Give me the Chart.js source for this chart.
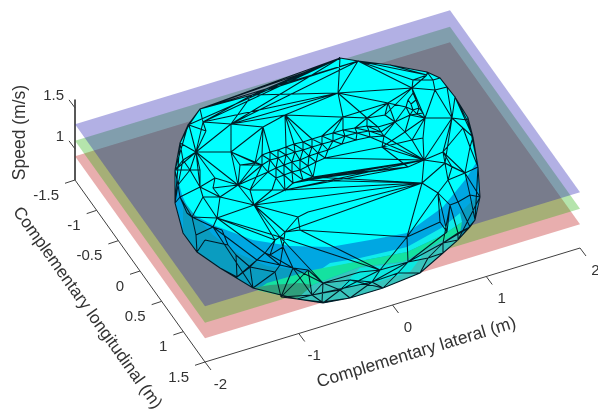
<!DOCTYPE html>
<html>
<head>
<meta charset="utf-8">
<script src="https://cdn.jsdelivr.net/npm/chart.js@4"></script>
<style>
  html, body { margin: 0; background: #fff; }
  canvas { display: block; filter: blur(0.4px); }
</style>
</head>
<body>
<canvas id="chart" width="598" height="410"></canvas>
<script>
// axis ticks, in data units
const lateralTicks = [-2, -1, 0, 1, 2];
const longitudinalTicks = [-1.5, -1, -0.5, 0, 0.5, 1, 1.5];
const speedTicks = [1, 1.5];

// the three speed planes, low to high
const planeSpeeds = [0.91, 1.10, 1.30];

// mesh vertices, in view units. 0-28 is the outline
const meshU = [
  340,358,390,427,440,455,468,473,478,480,475,458,443,420,383,350,323,297,253,220,197,183,175,175,180,188,200,252,303,
  255,262,270,278,286,294,303,312,322,333,343,355,367,378,
  262,270,278,286,295,303,312,322,333,345,357,369,381,
  268,276,284,292,300,309,318,328,342,356,370,384,
  276,284,292,300,308,316,325,
  285,293,303,313,
  412,413,408,406,411,416,413,419,417,423,410,425,
  338,388,367,343,385,427,413,433,435,447,452,467,463,424,412,443,445,423,395,408,470,465,382,405,
  285,263,231,196,231,203,189,206,
  254,220,217,308,298,300,285,280,275,283,265,270,257,250,293,280,275,237,281,312,323,360,322,
  192,180,203,200,213,238,213,
  422,448,438,458,450,407,408,380,443,458,470,447,372,398,428,
  205,228,196,187,470,440,452,200,178,190,183,215,240,250,272,222,236,340,350,308
];
const meshV = [
  58,61,65,72,78,97,118,137,167,197,220,240,253,273,288,298,303,299,288,268,252,233,203,170,143,125,109,95,73,
  163,155,152,150,147,144,142,139,136,133,130,128,126,127,
  165,160,158,155,152,150,147,144,141,136,133,131,132,
  172,168,165,162,160,156,153,150,144,140,137,136,
  178,175,172,170,166,162,158,
  190,183,180,177,
  88,93,100,107,104,100,110,108,114,113,115,118,
  93,103,118,117,115,75,80,80,90,87,118,120,128,160,140,152,163,138,122,167,147,173,147,132,
  115,127,124,152,152,122,125,131,
  205,197,218,212,217,230,232,237,240,247,253,255,260,267,268,265,272,277,297,295,283,272,302,
  217,197,197,187,188,185,227,
  183,180,193,202,205,237,262,270,243,233,227,232,282,273,258,
  240,245,235,213,195,222,167,170,185,170,160,178,165,190,190,230,255,290,280,270
];

// mesh edges as runs of vertex ids
const meshPaths = [
  [0,1,2,3,4,5,6,7,8,9,10,11,12,13,14,15,16,17,18,19,20,21,22,23,24,25,26,27,28,0],
  // dense strip through the middle
  [29,30,31,32,33,34,35,36,37,38,39,40,41,42],
  [43,44,45,46,47,48,49,50,51,52,53,54,55],
  [56,57,58,59,60,61,62,63,64,65,66,67],
  [68,69,70,71,72,73,74],
  [75,76,77,78],
  [29,43,30,44,31,45,32,46,33,47,34,48,35,49,36,50,37,51,38,52,39,53,40,54,41,55,42],
  [43,56,44,57,45,58,46,59,47,60,48,61,49,62,50,63,51,64,52,65,53,66,54,67,55],
  [56,68,57,69,58,70,59,71,60,72,61,73,62,74,63],
  [68,75,69,76,70,77,71,78,72], [78,73],
  // knot at the right end of the strip
  [79,80,81,82,85,83,81], [80,84,83], [84,86,85,87,86,88,87,89,85], [82,89], [79,84], [88,90], [87,90], [89,90], [79,90],
  // top
  [26,0], [27,0], [27,1], [26,28], [26,1], [25,0], [120,0], [120,91], [27,91], [117,0], [117,91], [117,1], [115,91], [115,117], [0,91], [1,91],
  [91,79], [1,79], [79,96], [91,94], [91,93], [91,92], [79,92], [79,95], [92,95], [92,109], [92,82], [92,94], [92,93], [93,95],
  [93,94], [94,37], [94,38], [94,39], [93,40], [93,41], [93,42], [115,93], [115,33], [115,34], [115,35], [115,36],
  [116,30], [116,31], [116,29], [116,115], [116,117], [116,119], [117,119], [118,117], [118,119], [118,120], [118,121],
  [26,120], [26,121], [25,121], [121,24], [24,118], [23,118], [120,117], [120,27], [27,117], [122,120], [122,118], [122,121],
  // right upper side
  [97,1], [97,79], [97,96], [97,98], [96,3], [96,2], [96,1], [98,4], [98,3], [98,99], [99,100], [99,101], [79,99], [100,101],
  [100,5], [100,4], [101,5], [101,90], [101,102], [101,103], [101,106], [101,107], [102,5], [102,6], [102,7], [103,7], [103,111],
  [103,106], [111,7], [111,8], [111,112], [112,8], [112,9], [106,107], [106,112], [99,90], [5,7], [6,8], [8,10], [9,11],
  [90,108], [108,105], [108,104], [90,105], [42,109], [55,109], [67,109], [109,95], [109,82], [109,114], [109,89],
  [114,89], [114,105], [114,90], [113,114], [113,110], [113,67], [113,105], [113,104], [74,113], [66,104], [67,104], [78,104],
  [104,101], [104,105], [104,107], [104,106], [104,110], [104,153], [104,75], [104,77], [104,74], [104,76],
  [110,77], [110,78], [110,75], [107,153], [107,112], [107,154], [174,107], [174,112], [174,154], [174,106],
  // long stripes across
  [153,75], [153,77], [153,123], [153,126], [153,129], [153,78], [128,158], [128,160], [130,160], [130,143],
  // right lower side
  [158,153], [158,155], [158,159], [158,160], [153,155], [155,154], [154,112], [155,157], [157,156], [156,154], [156,172],
  [112,172], [172,9], [172,10], [156,163], [157,162], [157,164], [164,155], [173,155], [173,164], [173,158], [159,160],
  [159,161], [159,164], [159,165], [159,166], [161,157], [161,162], [161,163], [163,10], [163,11], [162,11], [162,163],
  [161,12], [161,11], [161,167], [167,13], [167,12], [167,159], [166,13], [166,14], [165,14], [165,15], [165,160], [165,166],
  [144,160], [144,143], [143,142], [143,145], [142,145], [142,17], [142,141], [141,17], [141,137], [143,137], [137,142],
  [185,142], [185,143], [185,160], [185,15], [185,16], [186,143], [186,185], [186,165], [186,14], [145,16], [145,17],
  [142,165], [145,15], [187,137], [187,143], [187,142], [187,141],
  // middle low
  [137,132], [137,138], [138,132], [138,139], [139,18], [139,141], [139,136], [136,18], [136,140], [140,19], [140,184],
  [184,136], [184,169], [129,130,131,133,135,136], [131,134,132,130], [132,129,128,127,126], [127,129], [129,123], [131,123], [130,125],
  [125,133], [125,131], [152,135], [152,18], [152,183], [183,169], [170,20],
  [168,20], [168,169], [152,170], [135,140], [135,138], [133,138], [133,134], [134,137], [123,130],
  // left
  [118,151], [118,149], [118,179], [118,175], [118,177], [118,178], [178,24], [178,23], [178,176], [178,177], [24,22], [25,23], [177,149], [23,177], [176,177], [176,147],
  [147,149], [147,146], [147,22], [148,149], [148,146], [148,124], [148,125], [125,146], [125,124], [125,152], [146,152],
  [146,170], [146,171], [171,147], [22,176], [23,176], [175,177], [175,149], [179,149], [179,150], [179,151],
  [150,151], [150,124], [149,124], [124,151], [124,123], [125,123], [123,151], [119,151], [119,29], [119,43], [151,29], [151,43], [151,56],
  [119,180], [180,151], [180,29], [180,43], [123,181], [123,182], [123,75], [123,127], [181,151], [182,181], [75,182], [68,182], [56,181], [43,181]
];

// shaded bands on the body where it sits under the planes
const underBlue = [[478,160],[480,197],[475,220],[458,240],[443,253],[420,273],[383,288],[350,298],[323,303],[297,299],[253,288],[220,268],[197,252],[183,233],[175,203],[176,172],[182,195],[190,213],[213,225],[253,240],[290,246],[330,247],[370,240],[407,233],[443,207],[465,180]];
const underLeft = [[183,200],[193,213],[213,235],[237,253],[267,266],[300,270],[320,272],[297,299],[253,288],[220,268],[197,252],[183,233]];
const underRight = [[478,195],[460,213],[443,227],[445,240],[458,240],[475,220]];
const stripeCyan = [[330,263],[360,258],[407,247],[443,227],[460,213],[462,222],[443,235],[407,252],[360,261],[320,270]];
const stripeGreen = [[257,290],[267,283],[313,270],[360,261],[407,252],[443,235],[462,222],[460,233],[440,242],[403,262],[360,267],[313,285],[297,299]];
const tipGreen = [[253,288],[270,285],[300,283],[313,285],[297,299]];
const bottomBody = [[462,232],[440,242],[403,262],[360,267],[313,285],[297,299],[323,303],[350,298],[383,288],[420,273],[443,253],[458,240]];
const bottomCyan = [[360,268],[403,263],[425,252],[410,272],[370,284],[340,288]];

const LATERAL_TITLE = 'Complementary lateral (m)';
const LONGITUDINAL_TITLE = 'Complementary longitudinal (m)';
const SPEED_TITLE = 'Speed (m/s)';

// view of the 3d box: where lateral -2 / longitudinal 1.5 / speed 0.62 lands
const project = (lat, lon, speed) => ({
  x: 205 + 93.75 * (lat + 2) + 43.33 * (lon - 1.5),
  y: 362 - 28.5 * (lat + 2) + 60.67 * (lon - 1.5) - 82 * (speed - 0.62),
});

const GAP = { x: NaN, y: NaN };
const pairsToPoints = pairs => pairs.map(p => ({ x: p[0], y: p[1] }));
const meshPoint = id => ({ x: meshU[id], y: meshV[id] });

function area(points, color) {
  return { data: points, polygonColor: color, borderColor: 'transparent', borderWidth: 0, showLine: false, pointRadius: 0 };
}
function lines(points, color, width) {
  return { data: points, fill: false, borderColor: color, borderWidth: width, showLine: true, spanGaps: false, pointRadius: 0 };
}

const planeColors = ['rgba(189,23,23,0.35)', 'rgba(43,177,17,0.35)', 'rgba(34,29,177,0.35)'];
const planeSets = planeSpeeds.map((s, i) => {
  const corners = [[-2, -1.5], [2, -1.5], [2, 1.5], [-2, 1.5]];
  return area(corners.map(c => project(c[0], c[1], s)), planeColors[i]);
});

// box edges and tick marks
const axisPoints = [
  project(-2, -1.5, 1.6), project(-2, -1.5, 0.62), project(-2, 1.5, 0.62), project(2, 1.5, 0.62), GAP,
];
lateralTicks.forEach(t => {
  const p = project(t, 1.5, 0.62);
  axisPoints.push(p, { x: p.x + 6, y: p.y + 8 }, GAP);
});
longitudinalTicks.forEach(t => {
  const p = project(-2, t, 0.62);
  axisPoints.push(p, { x: p.x - 10, y: p.y + 3.3 }, GAP);
});
speedTicks.forEach(t => {
  const p = project(-2, -1.5, t);
  axisPoints.push(p, { x: p.x - 6, y: p.y - 8 }, GAP);
});

const edgePoints = [];
meshPaths.forEach(path => {
  path.forEach(id => edgePoints.push(meshPoint(id)));
  edgePoints.push(GAP);
});

const outline = meshPaths[0].slice(0, -1).map(meshPoint);

// first in the list is painted first
const datasets = [
  lines(axisPoints, '#404040', 1),
  ...planeSets,
  area(outline, '#00ffff'),
  area(pairsToPoints(underBlue), '#00a7e2'),
  area(pairsToPoints(underLeft), '#0a9cc0'),
  area(pairsToPoints(underRight), '#0a9cc0'),
  area(pairsToPoints(stripeCyan), '#10ecec'),
  area(pairsToPoints(stripeGreen), '#14e2a0'),
  area(pairsToPoints(tipGreen), '#2f9f7c'),
  area(pairsToPoints(bottomBody), '#38c4bc'),
  area(pairsToPoints(bottomCyan), '#0ce8e0'),
  lines(edgePoints, 'rgba(0,18,28,0.95)', 1.05),
];
datasets.forEach((d, i) => { d.order = -i; d.clip = false; });

// paints a dataset's points as one closed polygon, using the positions the scales gave them
const polygonFill = {
  id: 'polygonFill',
  beforeDatasetDraw(chart, args) {
    const color = chart.data.datasets[args.index].polygonColor;
    if (!color) return;
    const { ctx } = chart;
    ctx.save();
    ctx.beginPath();
    args.meta.data.forEach((pt, i) => (i ? ctx.lineTo(pt.x, pt.y) : ctx.moveTo(pt.x, pt.y)));
    ctx.closePath();
    ctx.fillStyle = color;
    ctx.fill();
    ctx.restore();
  },
};

const axisText = {
  id: 'axisText',
  afterDraw(chart) {
    const { ctx, scales } = chart;
    const put = (text, p, dx, dy, align, font, angle) => {
      ctx.save();
      ctx.translate(scales.x.getPixelForValue(p.x) + dx, scales.y.getPixelForValue(p.y) + dy);
      ctx.rotate((angle || 0) * Math.PI / 180);
      ctx.textAlign = align;
      ctx.textBaseline = 'middle';
      ctx.font = font;
      ctx.fillStyle = '#333333';
      ctx.fillText(text, 0, 0);
      ctx.restore();
    };
    const tickFont = '15px "Liberation Sans", Arial, sans-serif';
    const titleFont = '17.5px "Liberation Sans", Arial, sans-serif';
    lateralTicks.forEach(t => put(String(t), project(t, 1.5, 0.62), 15.5, 22.5, 'center', tickFont));
    longitudinalTicks.forEach(t => put(String(t), project(-2, t, 0.62), -16, 15.5, 'right', tickFont));
    speedTicks.forEach(t => put(String(t), project(-2, -1.5, t), -11, -12, 'right', tickFont));
    put(LATERAL_TITLE, project(0.15, 1.5, 0.62), 10, 52, 'center', titleFont, -16.9);
    put(LONGITUDINAL_TITLE, project(-2, 0.05, 0.62), -55, 34, 'center', '17.2px "Liberation Sans", Arial, sans-serif', 54.5);
    put(SPEED_TITLE, project(-2, -1.5, 1.15), -55, -4, 'center', titleFont, -90);
  },
};

new Chart(document.getElementById('chart').getContext('2d'), {
  type: 'scatter',
  data: { datasets },
  options: {
    responsive: false,
    animation: false,
    layout: { padding: 0 },
    plugins: { legend: { display: false }, tooltip: { enabled: false } },
    scales: {
      x: { type: 'linear', display: false, min: 0, max: 598 },
      y: { type: 'linear', display: false, min: 0, max: 410, reverse: true },
    },
  },
  plugins: [polygonFill, axisText],
});
</script>
</body>
</html>
